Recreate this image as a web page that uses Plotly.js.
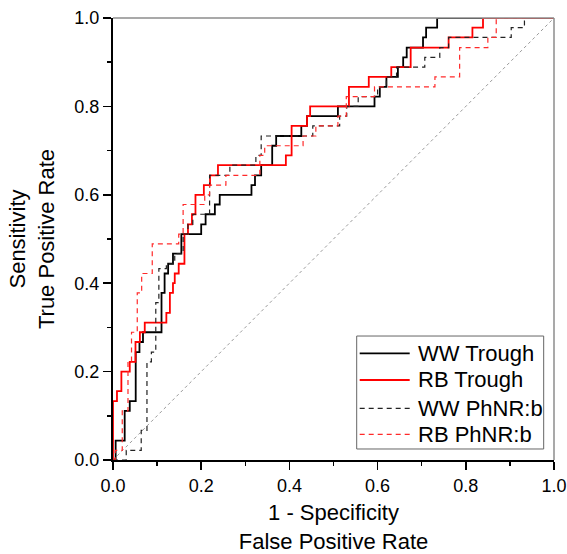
<!DOCTYPE html>
<html>
<head>
<meta charset="utf-8">
<script src="https://cdn.plot.ly/plotly-3.0.1.min.js"></script>
<style>html,body{margin:0;padding:0;background:#fff;}#chart{width:567px;height:554px;}</style>
</head>
<body>
<div id="chart"></div>
<script>
// Series names
const seriesNames = ["WW Trough", "RB Trough", "WW PhNR:b", "RB PhNR:b"];

// WW Trough (black solid): staircase corners (FPR, TPR)
const wwTroughX = [0, 0.006, 0.0265, 0.038, 0.0515, 0.06, 0.068, 0.11, 0.117, 0.125, 0.136, 0.155, 0.2, 0.21, 0.231, 0.242, 0.314, 0.322, 0.336, 0.361, 0.37, 0.427, 0.44, 0.51, 0.593, 0.605, 0.62, 0.646, 0.658, 0.666, 0.703, 0.71, 0.735, 1];
const wwTroughY = [0, 0.044, 0.111, 0.133, 0.244, 0.267, 0.289, 0.378, 0.422, 0.444, 0.467, 0.511, 0.533, 0.556, 0.578, 0.6, 0.622, 0.644, 0.667, 0.711, 0.733, 0.756, 0.778, 0.8, 0.822, 0.844, 0.867, 0.889, 0.911, 0.933, 0.956, 0.978, 1.0, 1.0];

// RB Trough (red solid)
const rbTroughX = [0, 0, 0.009, 0.019, 0.038, 0.051, 0.061, 0.072, 0.121, 0.129, 0.136, 0.14, 0.149, 0.162, 0.17, 0.179, 0.187, 0.206, 0.22, 0.238, 0.392, 0.405, 0.44, 0.447, 0.535, 0.58, 0.631, 0.675, 0.761, 0.815, 0.839, 1];
const rbTroughY = [0, 0.133, 0.156, 0.2, 0.222, 0.267, 0.289, 0.311, 0.333, 0.378, 0.4, 0.422, 0.444, 0.511, 0.533, 0.556, 0.6, 0.622, 0.644, 0.667, 0.689, 0.756, 0.778, 0.8, 0.844, 0.867, 0.889, 0.933, 0.956, 0.978, 1.0, 1.0];

// WW PhNR:b (black dashed)
const wwPhnrX = [0, 0.03, 0.064, 0.077, 0.087, 0.097, 0.104, 0.121, 0.14, 0.159, 0.17, 0.181, 0.219, 0.265, 0.324, 0.336, 0.453, 0.514, 0.53, 0.556, 0.6, 0.62, 0.643, 0.707, 0.741, 0.761, 0.903, 0.933, 1];
const wwPhnrY = [0, 0.022, 0.067, 0.222, 0.244, 0.356, 0.433, 0.444, 0.467, 0.511, 0.533, 0.556, 0.644, 0.667, 0.689, 0.733, 0.756, 0.778, 0.8, 0.822, 0.844, 0.867, 0.889, 0.911, 0.933, 0.956, 0.978, 1.0, 1.0];

// RB PhNR:b (red dashed)
const rbPhnrX = [0, 0.005, 0.021, 0.034, 0.042, 0.055, 0.065, 0.089, 0.149, 0.159, 0.208, 0.219, 0.256, 0.333, 0.344, 0.431, 0.46, 0.51, 0.529, 0.593, 0.73, 0.786, 0.85, 0.869, 1];
const rbPhnrY = [0, 0.022, 0.111, 0.222, 0.289, 0.378, 0.422, 0.489, 0.511, 0.578, 0.6, 0.622, 0.644, 0.689, 0.711, 0.733, 0.756, 0.778, 0.822, 0.844, 0.867, 0.933, 0.956, 1.0, 1.0];

// Chance line
const chanceX = [0, 1];
const chanceY = [0, 1];

// Axis ticks
const tickVals = [0, 0.2, 0.4, 0.6, 0.8, 1.0];
const tickText = ["0.0", "0.2", "0.4", "0.6", "0.8", "1.0"];

const seriesStyles = [
  {color: '#000000', width: 1.8, dash: 'solid'},
  {color: '#ff0000', width: 1.8, dash: 'solid'},
  {color: '#222222', width: 1.2, dash: '5px,4px'},
  {color: '#ff2a2a', width: 1.2, dash: '5px,4px'}
];

const seriesX = [wwTroughX, rbTroughX, wwPhnrX, rbPhnrX];
const seriesY = [wwTroughY, rbTroughY, wwPhnrY, rbPhnrY];

const traces = [
  {x: chanceX, y: chanceY, mode: 'lines', showlegend: false, hoverinfo: 'skip',
   line: {color: '#9a9a9a', width: 1, dash: 'dot'}}
];
seriesNames.forEach((n, i) => {
  traces.push({x: seriesX[i], y: seriesY[i], name: n, mode: 'lines', showlegend: false,
    line: {color: seriesStyles[i].color, width: seriesStyles[i].width, shape: 'hv', dash: seriesStyles[i].dash}});
});

const fontFam = '"Liberation Sans", Arial, sans-serif';

// Custom legend (paper coords)
const legBox = {x0: 0.5526, x1: 0.9766, y0: 0.0249, y1: 0.2805};
const legItemY = [0.2414, 0.181, 0.117, 0.0581];
const legLineX = [0.5594, 0.6728];
const legTextX = 0.6864;

const shapes = [
  {type: 'line', xref: 'paper', yref: 'paper', x0: 0, x1: 1, y0: 1, y1: 1, line: {color: '#8c8c8c', width: 1.5}},
  {type: 'line', xref: 'paper', yref: 'paper', x0: 1, x1: 1, y0: 0, y1: 1, line: {color: '#8c8c8c', width: 1.5}},
  {type: 'rect', xref: 'paper', yref: 'paper', x0: legBox.x0, x1: legBox.x1, y0: legBox.y0, y1: legBox.y1,
   line: {color: '#666666', width: 1}, fillcolor: '#ffffff', layer: 'above'}
];
const annotations = [];
seriesNames.forEach((n, i) => {
  shapes.push({type: 'line', xref: 'paper', yref: 'paper', x0: legLineX[0], x1: legLineX[1],
    y0: legItemY[i], y1: legItemY[i], layer: 'above',
    line: {color: seriesStyles[i].color, width: seriesStyles[i].width, dash: seriesStyles[i].dash}});
  annotations.push({xref: 'paper', yref: 'paper', x: legTextX, y: legItemY[i], xanchor: 'left', yanchor: 'middle',
    text: n, showarrow: false, font: {size: 22, family: fontFam, color: '#000'}});
});

const layout = {
  width: 567, height: 554,
  margin: {l: 113, r: 13, t: 18, b: 94},
  paper_bgcolor: '#ffffff', plot_bgcolor: '#ffffff',
  font: {family: fontFam, color: '#000', size: 16},
  xaxis: {
    range: [0, 1], showgrid: false, zeroline: false,
    showline: true, linecolor: '#000', linewidth: 2,
    ticks: 'outside', ticklen: 8, tickwidth: 1.5, tickcolor: '#000',
    tickvals: tickVals, ticktext: tickText,
    minor: {ticks: 'outside', ticklen: 4, tickwidth: 1.5, tickcolor: '#000', dtick: 0.1, showgrid: false},
    tickfont: {size: 18, family: fontFam},
    title: {text: '1 - Specificity<br>False Positive Rate', font: {size: 22, family: fontFam}, standoff: 18},
    automargin: false
  },
  yaxis: {
    range: [0, 1], showgrid: false, zeroline: false,
    showline: true, linecolor: '#000', linewidth: 2,
    ticks: 'outside', ticklen: 8, tickwidth: 1.5, tickcolor: '#000',
    tickvals: tickVals, ticktext: tickText,
    minor: {ticks: 'outside', ticklen: 4, tickwidth: 1.5, tickcolor: '#000', dtick: 0.1, showgrid: false},
    tickfont: {size: 18, family: fontFam},
    title: {text: 'Sensitivity<br>True Positive Rate', font: {size: 22, family: fontFam}, standoff: 14},
    automargin: false
  },
  shapes: shapes,
  annotations: annotations,
  showlegend: false
};

Plotly.newPlot('chart', traces, layout, {displayModeBar: false, staticPlot: true});
</script>
</body>
</html>
